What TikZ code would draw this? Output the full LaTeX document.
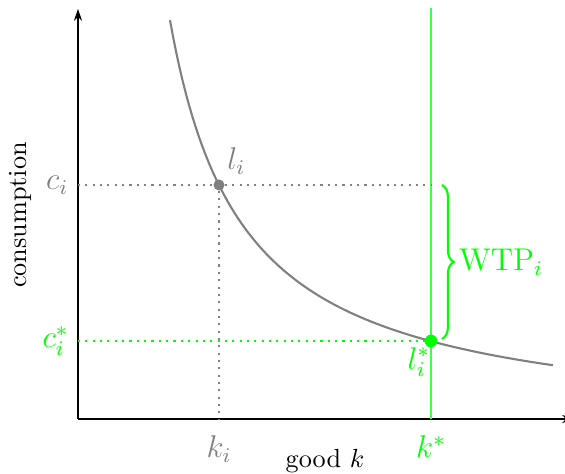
\documentclass[tikz,border=0pt]{standalone}
\usepackage{amsmath,amssymb}
\usepackage{xcolor}
\usepackage{tikz}
\usetikzlibrary{arrows.meta,positioning,calc,decorations.pathreplacing}

\begin{document}
\begin{tikzpicture}[
                x=0.0134cm, y=0.0134cm,
                axis/.style={-{Stealth[length=1.6mm,width=1.1mm]}, line width=0.5pt},
                curve/.style={gray, line width=0.8pt},
                guide/.style={dotted, line width=0.8pt},
                dot/.style={circle, fill, inner sep=0pt, minimum size=4.2pt},
                wtp/.style={decorate, decoration={brace, amplitude=4.5pt}, green, line width=0.8pt}
            ]
            \useasboundingbox (0,0) rectangle (565,474);
            % axes
            \coordinate (O) at (78,55);
            \coordinate (ytop) at (78,465);
            \coordinate (xend) at (574,55);
            \draw[axis] (O) -- (ytop);
            \draw[axis] (O) -- (xend);
            \node[rotate=90] (ylab) at (20,259) {consumption};
            \node (xlab) at (325,13) {good $k$};
            % indifference curve
            \draw[curve] plot[domain=170:553, samples=120] (\x, {2999/(\x-97)*10+43});
            % k* line
            \coordinate (kstop) at (431,466);
            \coordinate (kaxis) at (431,55);
            \draw[green!75!white, line width=0.45pt] (kstop) -- (kaxis);
            % current bundle
            \node[dot, gray] (li) at (219,289) {};
            \coordinate (ci) at (78,289);
            \coordinate (ki) at (219,55);
            \coordinate (cright) at (431,289);
            \draw[guide, gray] (ci) -- (cright);
            \draw[guide, gray] (li) -- (ki);
            \node[gray, anchor=east, inner sep=2pt] (cilab) at ($(ci)+(-4,0)$) {\large$c_i$};
            \node[gray, below=3pt of ki] (kilab) {\large$k_i$};
            \node[gray, above right=-1pt and -2pt of li] (lilab) {\large$l_i$};
            % optimal bundle
            \coordinate (cs) at (78,133);
            \draw[guide, green] (cs) -- (431,133);
            \node[dot, green, minimum size=4.8pt] (ls) at (431,133) {};
            \node[green, anchor=east, inner sep=2pt] (cslab) at ($(cs)+(-4,0)$) {\large$c_i^*$};
            \node[green, below=3pt of kaxis] (kslab) {\large$k^*$};
            \node[green, below left=-3pt and -5pt of ls] (lslab) {\large$l_i^*$};
            % willingness to pay
            \coordinate (btop) at (442,289);
            \coordinate (bbot) at (442,135);
            \draw[wtp] (btop) -- (bbot);
            \node[green, right=3pt of $(btop)!0.5!(bbot)$] (wtplab) {\large$\mathrm{WTP}_i$};
        \end{tikzpicture}
\end{document}
